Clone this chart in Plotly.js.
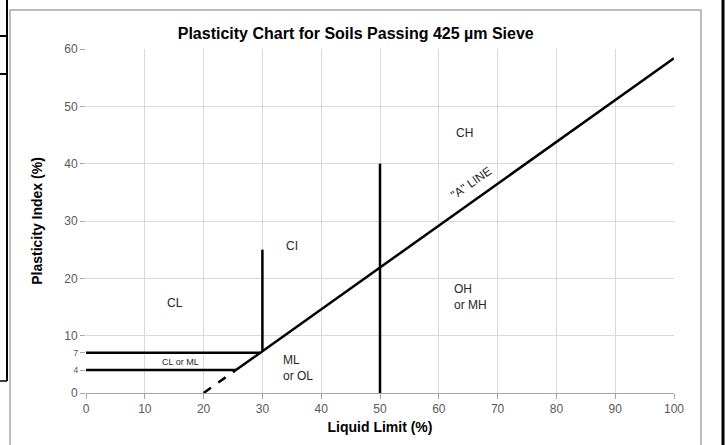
<!DOCTYPE html>
<html>
<head>
<meta charset="utf-8">
<script src="https://cdn.plot.ly/plotly-3.0.1.min.js"></script>
<style>html,body{margin:0;padding:0;background:#fff;}#chart{width:726px;height:445px;}</style>
</head>
<body>
<div id="chart"></div>
<script>
// Boundary lines (Liquid Limit, Plasticity Index)
const aLineLL = [25.5, 100];
const aLinePI = [4, 58.4];
const aLineDashLL = [20, 25.5];
const aLineDashPI = [0, 4];
const pi7LL = [0, 29.6];
const pi7PI = [7, 7];
const pi4LL = [0, 25.5];
const pi4PI = [4, 4];
const ll30LL = [30, 30];
const ll30PI = [7.3, 25];
const ll50LL = [50, 50];
const ll50PI = [0, 40];

// Zone labels
const zoneText = ["CL", "CI", "CH", "CL or ML"];
const zoneLL = [15.1, 35.0, 64.3, 16.0];
const zonePI = [15.7, 25.6, 45.3, 5.4];
const zoneSize = [12, 12, 12, 9];
const zone2Text = ["OH<br>or MH", "ML<br>or OL"];
const zone2LL = [62.2, 33.2];
const zone2PI = [16.7, 4.4];
const aLabel = "\"A\" LINE";
const aLabelLL = 65.5;
const aLabelPI = 36.6;

// Axis ticks
const xTicks = [0, 10, 20, 30, 40, 50, 60, 70, 80, 90, 100];
const yTicks = [0, 10, 20, 30, 40, 50, 60];
const yMinorTicks = [4, 7];

const lineStyle = {color: "#000", width: 2.5};
function seg(x, y, dash) {
  return {x: x, y: y, mode: "lines", type: "scatter", hoverinfo: "skip",
          line: Object.assign({}, lineStyle, dash ? {dash: "dash"} : {}), showlegend: false};
}
const traces = [
  seg(aLineLL, aLinePI),
  seg(aLineDashLL, aLineDashPI, true),
  seg(pi7LL, pi7PI),
  seg(pi4LL, pi4PI),
  seg(ll30LL, ll30PI),
  seg(ll50LL, ll50PI),
  {x: [0], y: [0], yaxis: "y2", mode: "markers", marker: {opacity: 0}, showlegend: false, hoverinfo: "skip"}
];

const ann = [];
zoneText.forEach((t, i) => ann.push({x: zoneLL[i], y: zonePI[i], text: t, showarrow: false,
  font: {size: zoneSize[i], color: "#262626"}}));
zone2Text.forEach((t, i) => ann.push({x: zone2LL[i], y: zone2PI[i], text: t, showarrow: false,
  xanchor: "left", align: "left", font: {size: 12, color: "#262626"}}));
ann.push({x: aLabelLL, y: aLabelPI, text: aLabel, showarrow: false, textangle: -35,
  font: {size: 12, color: "#262626"}});

function px(x) { return (x - 86) / 588; }
function py(y) { return (393 - y) / 344; }
const shapes = [
  {type: "rect", xref: "paper", yref: "paper", x0: px(10), x1: px(701), y0: py(460), y1: py(10),
   line: {color: "#a6a6a6", width: 1.5}},
  {type: "line", xref: "paper", yref: "paper", x0: px(7), x1: px(7), y0: py(0), y1: py(381), line: {color: "#000", width: 2}},
  {type: "line", xref: "paper", yref: "paper", x0: px(0), x1: px(7), y0: py(36), y1: py(36), line: {color: "#000", width: 2}},
  {type: "line", xref: "paper", yref: "paper", x0: px(0), x1: px(7), y0: py(74), y1: py(74), line: {color: "#000", width: 2}},
  {type: "line", xref: "paper", yref: "paper", x0: px(0), x1: px(7), y0: py(381), y1: py(381), line: {color: "#000", width: 1.5}},
  {type: "line", xref: "paper", yref: "paper", x0: px(723), x1: px(723), y0: py(460), y1: py(-10), line: {color: "#000", width: 3}}
];

const tickFont = {family: "Liberation Sans, Arial, sans-serif", size: 12, color: "#595959"};
const layout = {
  width: 726, height: 445,
  margin: {l: 86, r: 52, t: 49, b: 52},
  paper_bgcolor: "#fff", plot_bgcolor: "#fff",
  font: {family: "Liberation Sans, Arial, sans-serif"},
  title: {text: "<b>Plasticity Chart for Soils Passing 425 µm Sieve</b>", x: 0.49, xanchor: "center",
          y: 0.926, yanchor: "middle", font: {size: 16, color: "#000"}},
  xaxis: {range: [0, 100], tickvals: xTicks, ticktext: xTicks.map(String), showgrid: true, gridcolor: "#d9d9d9",
          gridwidth: 1, zeroline: false, showline: true, linecolor: "#a6a6a6", ticks: "outside", ticklen: 5,
          tickcolor: "#a6a6a6", tickfont: tickFont,
          title: {text: "<b>Liquid Limit (%)</b>", font: {size: 14, color: "#000"}, standoff: 6}},
  yaxis: {range: [0, 60], tickvals: yTicks, ticktext: yTicks.map(String), showgrid: true, gridcolor: "#d9d9d9",
          gridwidth: 1, zeroline: false, showline: false, ticks: "outside", ticklen: 5, tickcolor: "#a6a6a6",
          tickfont: tickFont,
          title: {text: "<b>Plasticity Index (%)</b>", font: {size: 14, color: "#000"}, standoff: 18}},
  yaxis2: {range: [0, 60], overlaying: "y", side: "left", tickvals: yMinorTicks, ticktext: yMinorTicks.map(String),
           showgrid: false, zeroline: false, showline: false, ticks: "outside", ticklen: 5, tickcolor: "#a6a6a6",
           tickfont: {family: "Liberation Sans, Arial, sans-serif", size: 9, color: "#595959"}},
  annotations: ann,
  shapes: shapes,
  showlegend: false
};
Plotly.newPlot("chart", traces, layout, {staticPlot: true, displayModeBar: false});
</script>
</body>
</html>
